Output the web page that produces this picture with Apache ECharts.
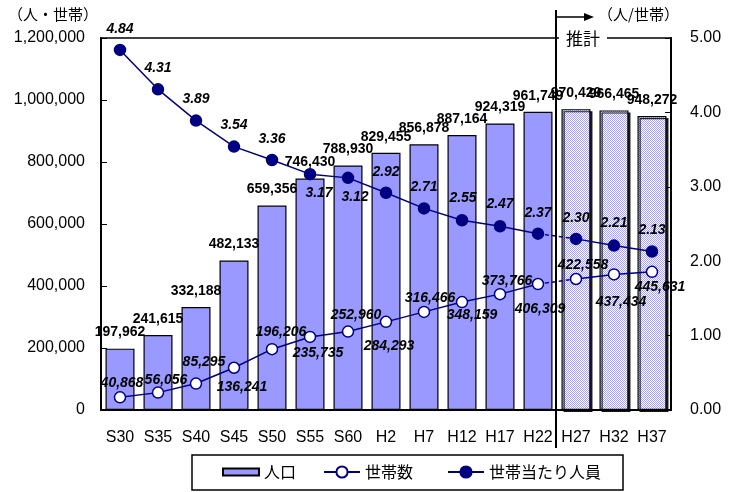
<!DOCTYPE html>
<html>
<head>
<meta charset="utf-8">
<script src="https://cdn.jsdelivr.net/npm/echarts@6/dist/echarts.min.js"></script>
<style>
html,body{margin:0;padding:0;background:#fff;}
#chart{width:734px;height:492px;}
</style>
</head>
<body>
<div id="chart"></div>
<script>
// ---- data ----
const categories = ['S30','S35','S40','S45','S50','S55','S60','H2','H7','H12','H17','H22','H27','H32','H37'];
const population = [197962, 241615, 332188, 482133, 659356, 746430, 788930, 829455, 856878, 887164, 924319, 961749, 970429, 966465, 948272];
const households = [40868, 56056, 85295, 136241, 196206, 235735, 252960, 284293, 316466, 348159, 373766, 406309, 422558, 437434, 445631];
const perHousehold = [4.84, 4.31, 3.89, 3.54, 3.36, 3.17, 3.12, 2.92, 2.71, 2.55, 2.47, 2.37, 2.30, 2.21, 2.13];
const firstProjected = 'H27';
const leftAxis = {min: 0, max: 1200000, interval: 200000};
const rightAxis = {min: 0, max: 5, interval: 1};

// ---- label placement (style only) ----
const hhLabelOffset = [[2,-14],[8,-12],[8,-21],[8,19],[9,-17],[8,16],[8,-16],[3,24],[6,-14],[10,13],[7,-13],[2,25],[7,-14],[7,28],[8,15]];
const phLabelOffset = [[0,-21],[0,-21],[0,-21],[0,-21],[0,-21],[9,19],[7,19],[0,-21],[0,-21],[1,-22],[0,-22],[0,-21],[0,-21],[0,-22],[0,-21]];

const NAVY = '#000080';
const BAR = '#9999ff';
const NUMFONT = "'Liberation Sans', Arial, sans-serif";
const JPFONT = "'Noto Sans CJK JP', sans-serif";

const P = categories.indexOf(firstProjected);

// dotted pattern for projected bars
const pc = document.createElement('canvas');
pc.width = 2; pc.height = 2;
const pctx = pc.getContext('2d');
pctx.fillStyle = '#ffffff'; pctx.fillRect(0,0,2,2);
pctx.fillStyle = '#a3a3ff'; pctx.fillRect(0,0,1,1); pctx.fillRect(1,1,1,1);
const pattern = {image: pc, repeat: 'repeat'};

const fmtComma = v => Number(v).toLocaleString('en-US');
const fmtPH = v => Number(v).toFixed(2);

function seg(arr, from, to, offsets) {
  return arr.map((v, i) => {
    if (i < from || i > to) return '-';
    return offsets ? {value: v, label: {offset: offsets[i]}} : v;
  });
}

const lblItalic = {
  show: true, position: 'inside', color: '#000', fontSize: 14,
  fontWeight: 'bold', fontStyle: 'italic', fontFamily: NUMFONT
};

const barData = population.map((v, i) => i >= P ? {
  value: v,
  itemStyle: {color: pattern, borderColor: '#000', borderWidth: 1.2,
    shadowColor: 'rgba(0,0,0,0.85)', shadowOffsetX: 2, shadowOffsetY: 2, shadowBlur: 0}
} : v);

function lineSeries(name, arr, yIdx, from, to, offs, filled, fmt) {
  return {
    name: name, type: 'line', yAxisIndex: yIdx,
    data: seg(arr, from, to, offs),
    symbol: 'circle', symbolSize: 11, showAllSymbol: true,
    lineStyle: {color: NAVY, width: 1.5},
    itemStyle: {color: filled ? NAVY : '#fff', borderColor: NAVY, borderWidth: 1.5},
    label: Object.assign({}, lblItalic, {formatter: p => fmt(p.value)}),
    emphasis: {disabled: true}, animation: false, z: 3
  };
}
function dashSeries(name, arr, yIdx, filled) {
  return {
    name: name, type: 'line', yAxisIndex: yIdx,
    data: seg(arr, P - 1, P),
    symbol: 'none',
    lineStyle: {color: NAVY, width: 1.5, type: [4, 3]},
    itemStyle: {color: filled ? NAVY : '#fff', borderColor: NAVY},
    emphasis: {disabled: true}, animation: false, z: 2, silent: true
  };
}

const chart = echarts.init(document.getElementById('chart'), null, {renderer: 'canvas'});
chart.setOption({
  animation: false,
  backgroundColor: '#fff',
  grid: {left: 101, right: 63, top: 38, bottom: 82, show: true, borderColor: '#000', borderWidth: 1.5, backgroundColor: 'transparent'},
  xAxis: {
    type: 'category', data: categories,
    axisLine: {lineStyle: {color: '#000', width: 2}},
    axisTick: {inside: true, length: 4, lineStyle: {color: '#000'}},
    axisLabel: {color: '#000', fontSize: 16, fontFamily: NUMFONT, margin: 20, interval: 0}
  },
  yAxis: [{
    type: 'value', min: leftAxis.min, max: leftAxis.max, interval: leftAxis.interval,
    axisLine: {show: true, lineStyle: {color: '#000', width: 2}},
    axisTick: {show: true, inside: true, length: 6, lineStyle: {color: '#000'}},
    splitLine: {show: false},
    axisLabel: {color: '#000', fontSize: 16, fontFamily: NUMFONT, margin: 16, formatter: fmtComma}
  }, {
    type: 'value', min: rightAxis.min, max: rightAxis.max, interval: rightAxis.interval, position: 'right',
    axisLine: {show: true, lineStyle: {color: '#000', width: 2}},
    axisTick: {show: true, inside: true, length: 6, lineStyle: {color: '#000'}},
    splitLine: {show: false},
    axisLabel: {color: '#000', fontSize: 16, fontFamily: NUMFONT, margin: 19, formatter: fmtPH}
  }],
  legend: [{
    data: [{name: '人口', icon: 'rect'}],
    left: 222, top: 464, padding: 0, itemWidth: 36, itemHeight: 7, itemGap: 30,
    textStyle: {color: '#000', fontSize: 16, fontFamily: JPFONT},
    selectedMode: false
  }, {
    data: ['世帯数', '世帯当たり人員'],
    left: 323, top: 464, padding: 0, itemWidth: 36, itemHeight: 14, itemGap: 34,
    textStyle: {color: '#000', fontSize: 16, fontFamily: JPFONT},
    selectedMode: false
  }],
  series: [
    {
      name: '人口', type: 'bar', data: barData, barWidth: 29, yAxisIndex: 0,
      itemStyle: {color: BAR, borderColor: '#000', borderWidth: 1.2},
      label: {show: true, position: 'top', distance: 9, color: '#000', fontSize: 14, fontWeight: 'bold', fontFamily: NUMFONT,
        formatter: p => fmtComma(p.value)},
      emphasis: {disabled: true}, animation: false, z: 1
    },
    lineSeries('世帯数', households, 0, 0, P - 1, hhLabelOffset, false, fmtComma),
    lineSeries('世帯数', households, 0, P, categories.length - 1, hhLabelOffset, false, fmtComma),
    lineSeries('世帯当たり人員', perHousehold, 1, 0, P - 1, phLabelOffset, true, fmtPH),
    lineSeries('世帯当たり人員', perHousehold, 1, P, categories.length - 1, phLabelOffset, true, fmtPH),
    dashSeries('世帯数', households, 0, false),
    dashSeries('世帯当たり人員', perHousehold, 1, true)
  ]
});

// annotations: projection divider, arrow, units, legend frame
const xa = chart.convertToPixel({xAxisIndex: 0}, categories[P - 1]);
const xb = chart.convertToPixel({xAxisIndex: 0}, categories[P]);
const xDiv = Math.round((xa + xb) / 2) - 1;
const yTop = chart.convertToPixel({yAxisIndex: 0}, leftAxis.max);
const yBot = chart.convertToPixel({yAxisIndex: 0}, leftAxis.min);

chart.setOption({
  graphic: [
    {type: 'rect', z: 0, shape: {x: 192, y: 455, width: 431, height: 35}, style: {fill: '#fff', stroke: '#000', lineWidth: 1.5}},
    {type: 'text', z: 100, left: 8, top: 7, style: {text: '（人・世帯）', fontSize: 15, fontFamily: JPFONT, fill: '#000'}},
    {type: 'text', z: 100, left: 598, top: 7, style: {text: '（人/世帯）', fontSize: 15, fontFamily: JPFONT, fill: '#000'}},
    {type: 'line', z: 100, shape: {x1: xDiv, y1: 10, x2: xDiv, y2: yBot + 38}, style: {stroke: '#000', lineWidth: 2}},
    {type: 'line', z: 100, shape: {x1: xDiv, y1: 17, x2: xDiv + 30, y2: 17}, style: {stroke: '#000', lineWidth: 1.5}},
    {type: 'polygon', z: 100, shape: {points: [[xDiv + 28, 13], [xDiv + 38, 17], [xDiv + 28, 21]]}, style: {fill: '#000'}},
    {type: 'text', z: 100, x: 583, y: yTop + 1, style: {text: '推計', fontSize: 17, fontFamily: JPFONT, fill: '#000',
      align: 'center', verticalAlign: 'middle', backgroundColor: '#fff', padding: [2, 7]}}
  ]
});
</script>
</body>
</html>
